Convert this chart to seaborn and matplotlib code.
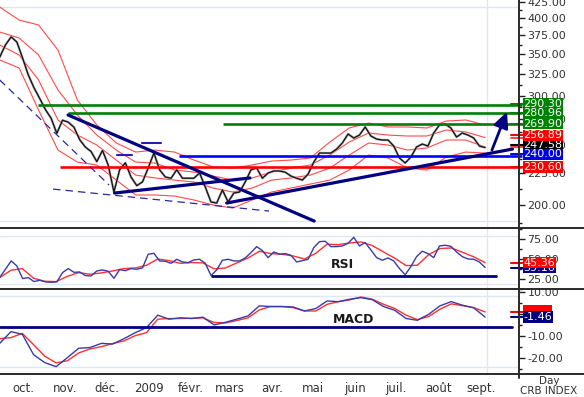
import numpy as np
import pandas as pd
import matplotlib
matplotlib.use("Agg")
import matplotlib.pyplot as plt
import matplotlib.ticker as mticker
from matplotlib.transforms import blended_transform_factory
from matplotlib.lines import Line2D
from matplotlib.patches import Rectangle
import seaborn as sns

sns.set_style("white")
plt.rcParams["font.family"] = ["DejaVu Sans"]

# ---------------- data ----------------
START, END = "2008-09-14", "2009-09-04"

close = [346, 362, 373, 366, 345, 324, 309, 297, 285, 276,
         261, 274, 272, 267, 255, 248, 244, 235, 245, 232,
         210, 228, 234, 222, 215, 218, 229.5, 242.6, 228, 222,
         221, 228, 221, 221, 221, 225.3, 213.9, 202.4, 201.6, 211.6,
         202.4, 209.2, 210, 218, 228, 229.5, 221, 225.3, 227, 227,
         226, 222.8, 221, 219.5, 224.4, 234.6, 242.6, 242.6, 242.6, 246.2,
         251.8, 260.3, 256.5, 259.3, 267.2, 258.4, 255.5, 254.6, 254.6, 249,
         238.2, 233.8, 239, 248.1, 250.8, 249, 261.3, 269.1, 270.1, 266.2,
         257.4, 261.3, 259.3, 256.5, 249, 247.58]

band_upper = [416.6, 397, 389.8, 355.3, 295.2, 269.1, 251.8, 243.5, 245.3, 243.5,
              236.4, 230.4, 229.5, 232.1, 235.5, 236.4, 238.2, 252.7, 266.2, 271.1,
              267.2, 267.2, 266.2, 273.1, 274.2, 269.1]
band_mid = [379.8, 371.4, 348.8, 306.4, 279.3, 259.3, 245.3, 234.6, 233.8, 227.8,
            226.1, 222.8, 219.5, 221.2, 226.1, 229.5, 232.1, 240.8, 252.7, 261.3,
            259.3, 258.4, 258.4, 264.2, 262.3, 256.89]
band_mid2 = [362, 348.8, 318, 274.2, 259.3, 249.9, 236.4, 223.6, 221.2, 219.5,
             217.9, 213.1, 210, 213.1, 219.5, 221.2, 223.6, 229.5, 240.8, 251.8,
             249.9, 245.3, 247.2, 254.6, 254.6, 248.1]
band_lower = [342.4, 332.4, 284.5, 245.3, 234.6, 232.1, 219.5, 207.7, 207.7, 206.9,
              203.9, 200.1, 197.9, 203.9, 210, 213.1, 216.3, 219.5, 227.8, 240.8,
              238.2, 229.5, 227.8, 239, 243.5, 242.6]

rsi = [26.4, 36.9, 47.5, 41.2, 25.1, 26.4, 21.3, 23.0, 20.9, 20.4,
       20.9, 32.7, 37.8, 33.1, 33.5, 28.9, 28.5, 34.8, 36.1, 34.4,
       25.5, 36.5, 35.2, 37.8, 36.9, 38.6, 56.0, 57.2, 47.5, 47.1,
       44.5, 49.6, 46.2, 45.4, 48.8, 49.6, 44.5, 29.0, 36.1, 48.4,
       49.6, 47.5, 47.5, 51.3, 58.1, 65.7, 60.6, 51.7, 58.9, 56.0,
       56.8, 54.7, 46.2, 47.9, 49.6, 64.4, 72.0, 72.5, 65.7, 65.7,
       66.5, 69.9, 77.5, 66.5, 70.8, 61.5, 51.7, 48.4, 51.3, 47.5,
       37.8, 30.0, 40.3, 53.0, 59.8, 56.8, 51.7, 66.5, 67.4, 66.1,
       58.9, 53.0, 50.0, 49.6, 46.2, 39.16]
rsi_signal = [26.4, 35.7, 37.8, 25.5, 21.7, 21.3, 28.0, 32.7, 30.6, 32.3,
              34.8, 37.8, 38.6, 42.0, 50.0, 47.9, 44.5, 45.4, 45.0, 37.4,
              38.6, 45.0, 51.3, 59.8, 56.8, 56.0, 53.8, 50.0, 57.2, 68.7,
              68.2, 70.3, 71.6, 67.0, 58.9, 50.9, 41.6, 42.0, 55.5, 63.2,
              64.0, 58.5, 52.6, 45.36]

macd = [-13.3, -8.0, -9.2, -18.4, -22.0, -23.8, -19.7, -15.5, -15.2, -13.3,
        -13.6, -11.2, -8.5, -6.2, -0.6, -2.4, -1.8, -2.1, -1.5, -5.0,
        -3.8, -2.4, -0.9, 3.6, 3.3, 3.3, 3.1, 1.3, 2.4, 5.8,
        5.5, 6.6, 7.3, 6.4, 3.3, 1.6, -2.1, -2.9, -0.2, 3.6,
        5.5, 3.9, 2.7, -1.46]
macd_signal = [-11.2, -10.7, -8.8, -13.9, -19.1, -22.1, -21.1, -17.6, -15.8, -14.8,
               -13.4, -12.2, -9.8, -8.5, -2.4, -2.1, -2.1, -2.0, -1.8, -3.9,
               -4.1, -3.0, -1.8, 1.8, 3.3, 3.3, 2.8, 1.3, 1.3, 4.3,
               5.5, 6.3, 7.6, 6.6, 4.3, 2.4, -0.6, -2.6, -1.2, 2.1,
               4.5, 3.7, 2.8, 0.86]

# horizontal levels: (value, start date, colour)
levels = [(290.30, "2008-10-12", "#008000"),
          (280.96, "2008-11-03", "#008000"),
          (269.90, "2009-02-24", "#008000"),
          (240.00, "2009-01-23", "#0000ff"),
          (230.60, "2008-10-28", "#ff0000")]
# trend lines: (date0, value0, date1, value1)
trend_solid = [("2008-11-03", 279.3, "2009-05-02", 188.6),
               ("2008-12-07", 209.2, "2009-03-16", 221.2),
               ("2009-02-27", 201.6, "2009-09-24", 246.2)]
trend_dashed = [("2008-09-14", 318.0, "2008-12-03", 215.5),
                ("2008-10-23", 212.3, "2009-03-30", 195.7)]
short_segments = [("2008-12-09", "2008-12-20", 240.8),
                  ("2008-12-27", "2009-01-10", 251.8)]
arrow = ("2009-09-09", 245.3, "2009-09-20", 282.7)
rsi_support = ("2009-02-16", "2009-09-12", 28.4)
macd_support = ("2008-09-14", "2009-09-24", -5.8)

month_labels = ["oct.", "nov.", "déc.", "2009", "févr.", "mars", "avr.",
                "mai", "juin", "juil.", "août", "sept."]
month_ticks = pd.date_range("2008-10-01", "2009-09-01", freq="MS")

price_tags = [(291.0, "290.30", "#008000"), (281.1, "280.96", "#008000"),
              (270.5, "269.90", "#008000"), (249.5, "247.58", "#000000"),
              (259.0, "256.89", "#ff0000"), (241.5, "240.00", "#0000ee"),
              (230.4, "230.60", "#ff0000")]

# ---------------- frames ----------------
d86 = pd.date_range(START, END, periods=len(close))
d44 = pd.date_range(START, END, periods=len(macd))
d26 = pd.date_range(START, END, periods=len(band_upper))
df_p = pd.DataFrame({"date": d86, "close": close, "rsi": rsi})
df_b = pd.DataFrame({"date": d26, "up": band_upper, "mid": band_mid,
                     "mid2": band_mid2, "low": band_lower})
df_i = pd.DataFrame({"date": d44, "rsis": rsi_signal, "macd": macd, "macds": macd_signal})

# ---------------- layout ----------------
W, H = 584, 397
fig = plt.figure(figsize=(W / 100, H / 100), dpi=100)
fig.patch.set_facecolor("white")


def rect(top, bottom):
    return [0, 1 - bottom / H, 519 / W, (bottom - top) / H]


ax_p = fig.add_axes(rect(0, 228))
ax_r = fig.add_axes(rect(228, 289))
ax_m = fig.add_axes(rect(289, 374))
XL = (pd.Timestamp("2008-09-14 05:00"), pd.Timestamp("2009-09-28 19:00"))

NAVY = "#000080"
RED = "#ff3030"
BLUE = "#3a3aa8"
GRID = "#dde8f1"

# ---- price panel ----
for col in ["up", "mid", "mid2", "low"]:
    sns.lineplot(data=df_b, x="date", y=col, ax=ax_p, color="#ff4a4a", lw=0.8,
                 errorbar=None, estimator=None)
sns.lineplot(data=df_p, x="date", y="close", ax=ax_p, color="#a8a8a8", lw=1.7,
             errorbar=None, estimator=None)
sns.lineplot(data=df_p, x="date", y="close", ax=ax_p, color="#111111", lw=0.9,
             errorbar=None, estimator=None)

ax_p.set_yscale("log")
ax_p.set_ylim(183.8, 427.6)
ax_p.set_xlim(*XL)
for v in (416.6, 188.6):
    ax_p.axhline(v, color=GRID, lw=1, zorder=0)

end_x = pd.Timestamp("2009-10-01")
for v, d0, c in levels:
    ax_p.plot([pd.Timestamp(d0), end_x], [v, v], color=c, lw=1.9,
              clip_on=False, zorder=4, solid_capstyle="butt")
for d0, v0, d1, v1 in trend_solid:
    ax_p.plot([pd.Timestamp(d0), pd.Timestamp(d1)], [v0, v1], color=NAVY,
              lw=2.3, zorder=5, solid_capstyle="round")
for d0, v0, d1, v1 in trend_dashed:
    ax_p.plot([pd.Timestamp(d0), pd.Timestamp(d1)], [v0, v1], color="#2828a0",
              lw=0.9, ls=(0, (6, 4)), zorder=4)
for d0, d1, v in short_segments:
    ax_p.plot([pd.Timestamp(d0), pd.Timestamp(d1)], [v, v], color="#1f1fb0",
              lw=1.5, zorder=4)
ax_p.annotate("", xy=(pd.Timestamp(arrow[2]), arrow[3]),
              xytext=(pd.Timestamp(arrow[0]), arrow[1]),
              arrowprops=dict(arrowstyle="-|>,head_length=0.95,head_width=0.45",
                              color=NAVY, lw=2.0, shrinkA=0, shrinkB=0),
              annotation_clip=False, zorder=6)

# ---- RSI panel ----
sns.lineplot(data=df_i, x="date", y="rsis", ax=ax_r, color=RED, lw=1.0,
             errorbar=None, estimator=None)
sns.lineplot(data=df_p, x="date", y="rsi", ax=ax_r, color=BLUE, lw=1.0,
             errorbar=None, estimator=None)
ax_r.plot([pd.Timestamp(rsi_support[0]), pd.Timestamp(rsi_support[1])],
          [rsi_support[2]] * 2, color=NAVY, lw=2.0, zorder=5)
ax_r.set_ylim(11.9, 89.3)
ax_r.set_xlim(*XL)
for v in (79.2, 18.3):
    ax_r.axhline(v, color=GRID, lw=1, zorder=0)
ax_r.text(pd.Timestamp("2009-05-23"), 43.3, "RSI", ha="center", va="center",
          fontsize=9, fontweight="bold", color="#1a1a1a", zorder=6)

# ---- MACD panel ----
sns.lineplot(data=df_i, x="date", y="macds", ax=ax_m, color=RED, lw=1.0,
             errorbar=None, estimator=None)
sns.lineplot(data=df_i, x="date", y="macd", ax=ax_m, color=BLUE, lw=1.0,
             errorbar=None, estimator=None)
ax_m.plot([pd.Timestamp(macd_support[0]), pd.Timestamp(macd_support[1])],
          [macd_support[2]] * 2, color=NAVY, lw=2.0, zorder=5)
ax_m.set_ylim(-27.1, 11.2)
ax_m.set_xlim(*XL)
for v in (8.06, -23.9):
    ax_m.axhline(v, color=GRID, lw=1, zorder=0)
ax_m.text(pd.Timestamp("2009-05-31"), -2.4, "MACD", ha="center", va="center",
          fontsize=9, fontweight="bold", color="#1a1a1a", zorder=6)

# ---- common styling ----
for ax in (ax_p, ax_r, ax_m):
    ax.axvline(pd.Timestamp("2009-09-05 10:00"), color=GRID, lw=1, zorder=0)
    ax.set_xlabel("")
    ax.set_ylabel("")
    ax.set_facecolor("none")
    for s in ax.spines.values():
        s.set_visible(False)
    ax.yaxis.tick_right()
    ax.tick_params(axis="y", which="major", length=4, width=1, color="#222222",
                   labelsize=8, labelcolor="#333333", pad=2, direction="out")
    ax.tick_params(axis="y", which="minor", length=2.5, width=1, color="#222222")

ax_p.yaxis.set_major_locator(mticker.FixedLocator(np.arange(200, 426, 25)))
ax_p.yaxis.set_minor_locator(mticker.FixedLocator(np.arange(187.5, 426, 25)))
ax_p.yaxis.set_major_formatter(mticker.FormatStrFormatter("%.2f"))
ax_p.yaxis.set_minor_formatter(mticker.NullFormatter())
ax_r.yaxis.set_major_locator(mticker.FixedLocator([25, 50, 75]))
ax_r.yaxis.set_minor_locator(mticker.FixedLocator([12.5, 37.5, 62.5, 87.5]))
ax_r.yaxis.set_major_formatter(mticker.FormatStrFormatter("%.2f"))
ax_m.yaxis.set_major_locator(mticker.FixedLocator([-20, -10, 0, 10]))
ax_m.yaxis.set_minor_locator(mticker.FixedLocator([-25, -15, -5, 5]))
ax_m.yaxis.set_major_formatter(mticker.FormatStrFormatter("%.2f"))

for ax in (ax_p, ax_r):
    ax.set_xticks([])
ax_m.set_xticks(month_ticks)
ax_m.set_xticklabels(month_labels)
ax_m.tick_params(axis="x", length=4, width=1, color="#222222", labelsize=8.5,
                 labelcolor="#333333", pad=1.5, direction="out")


# ---- value tags on the right ----
def tag(ax, y, text, fc, z):
    tr = blended_transform_factory(ax.transAxes, ax.transData)
    ax.plot([0.984, 1.008], [y, y], color=fc, lw=1.5, transform=tr,
            clip_on=False, zorder=z - 1)
    ax.text(1.0085, y, text, transform=tr, ha="left", va="center", fontsize=8,
            color="white", clip_on=False, zorder=z,
            bbox=dict(boxstyle="square,pad=0.06", fc=fc, ec="none"))


trp = blended_transform_factory(ax_p.transAxes, ax_p.transData)
for v in (band_upper[-1], band_mid[-1], band_mid2[-1]):
    ax_p.plot([0.984, 1.008], [v, v], color="#ff3030", lw=1.3, transform=trp,
              clip_on=False, zorder=8)
for i, (v, t, c) in enumerate(price_tags):
    tag(ax_p, v, t, c, 20 + i)

tag(ax_r, 39.16, "39.16", NAVY, 20)
tag(ax_r, 45.36, "45.36", "#ff0000", 21)

trm = blended_transform_factory(ax_m.transAxes, ax_m.transData)
ax_m.plot([0.984, 1.008], [0.86, 0.86], color="#ff0000", lw=1.5, transform=trm,
          clip_on=False, zorder=18)
ax_m.add_patch(Rectangle((1.0077, -1.5), 0.056, 5.5, transform=trm, fc="#ff0000",
                         ec="none", clip_on=False, zorder=19))
tag(ax_m, -1.46, "-1.46", NAVY, 21)

# ---- frame lines ----
for ypx in (228, 289, 374):
    fig.add_artist(Line2D([0, 1], [1 - ypx / H] * 2, color="#2a2a2a", lw=1.4,
                          transform=fig.transFigure))
fig.add_artist(Line2D([519 / W] * 2, [1, 1 - 378 / H], color="#2a2a2a", lw=1.4,
                      transform=fig.transFigure))

fig.text(549 / W, 1 - 381 / H, "Day", ha="center", va="center", fontsize=7.5,
         color="#333333")
fig.text(549 / W, 1 - 391 / H, "CRB INDEX", ha="center", va="center",
         fontsize=7.5, color="#333333")

fig.savefig("out.png", dpi=100, facecolor="white")
